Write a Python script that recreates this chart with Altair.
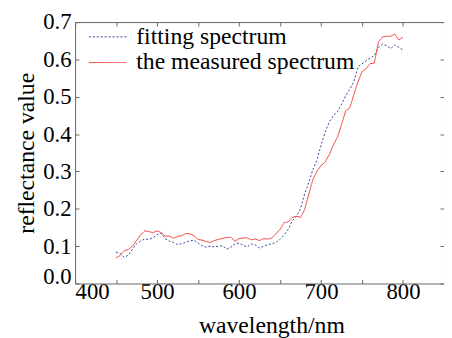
import altair as alt
import pandas as pd

wavelength = list(range(450, 805, 5))

measured = [
    0.068, 0.075, 0.088, 0.091, 0.100, 0.115, 0.130, 0.141, 0.139, 0.136,
    0.141, 0.136, 0.127, 0.127, 0.121, 0.126, 0.128, 0.134, 0.133, 0.128,
    0.118, 0.116, 0.112, 0.110, 0.115, 0.118, 0.121, 0.123, 0.124, 0.113,
    0.120, 0.122, 0.122, 0.117, 0.119, 0.115, 0.120, 0.119, 0.122, 0.133,
    0.145, 0.163, 0.165, 0.177, 0.180, 0.177, 0.198, 0.238, 0.278, 0.300,
    0.316, 0.325, 0.345, 0.370, 0.392, 0.425, 0.462, 0.470, 0.505, 0.540,
    0.567, 0.575, 0.589, 0.590, 0.646, 0.660, 0.662, 0.662, 0.668, 0.652,
    0.660,
]

fitting = [
    0.084, 0.080, 0.070, 0.076, 0.092, 0.106, 0.114, 0.119, 0.118, 0.122,
    0.131, 0.135, 0.120, 0.113, 0.110, 0.104, 0.107, 0.110, 0.114, 0.116,
    0.108, 0.101, 0.097, 0.100, 0.098, 0.100, 0.101, 0.092, 0.097, 0.106,
    0.108, 0.102, 0.098, 0.106, 0.103, 0.095, 0.100, 0.104, 0.106, 0.110,
    0.118, 0.130, 0.145, 0.168, 0.180, 0.200, 0.240, 0.270, 0.305, 0.330,
    0.370, 0.405, 0.432, 0.450, 0.460, 0.480, 0.503, 0.520, 0.540, 0.580,
    0.588, 0.596, 0.604, 0.610, 0.632, 0.641, 0.637, 0.629, 0.639, 0.632,
    0.625,
]

series_names = ["fitting spectrum", "the measured spectrum"]
series_colors = ["#34449a", "#ef3b38"]
series_dash = [[2, 2], [1, 0]]

x_ticks = list(range(400, 851, 50))
x_labels = list(range(400, 801, 100))
y_ticks = [0.0, 0.1, 0.2, 0.3, 0.4, 0.5, 0.6, 0.7]

df = pd.DataFrame({
    "wavelength": wavelength * 2,
    "value": fitting + measured,
    "series": [series_names[0]] * len(wavelength) + [series_names[1]] * len(wavelength),
})

FONT = "Liberation Serif"
FRAME = "#666666"
W, H = 374, 265

xscale = alt.Scale(domain=[400, 850], nice=False, zero=False)
yscale = alt.Scale(domain=[0, 0.7], nice=False)

legend = alt.Legend(
    title=None, orient="none", legendX=7, legendY=3,
    symbolType="M-1,0H6.6", symbolSize=100, symbolStrokeWidth=1,
    labelFont=FONT, labelFontSize=24, labelColor="black", labelLimit=0,
    labelOffset=31, rowPadding=2, padding=0,
)

main = alt.Chart(df).mark_line(strokeWidth=1).encode(
    x=alt.X("wavelength:Q", scale=xscale, axis=alt.Axis(
        orient="bottom", values=x_labels, format="d", ticks=False,
        domain=True, domainColor=FRAME, grid=False,
        labelFont=FONT, labelFontSize=23, labelColor="black", labelPadding=-3,
        title="wavelength/nm", titleFont=FONT, titleFontSize=24,
        titleFontWeight="normal", titleColor="black", titlePadding=11, titleX=199,
    )),
    y=alt.Y("value:Q", scale=yscale, axis=alt.Axis(
        orient="left", values=y_ticks, format=".1f", ticks=False,
        domain=True, domainColor=FRAME, grid=False,
        labelFont=FONT, labelFontSize=23, labelColor="black", labelPadding=4,
        labelBaseline=alt.condition("datum.value == 0", alt.value("alphabetic"), alt.value("middle")),
        title="reflectance value", titleFont=FONT, titleFontSize=24,
        titleFontWeight="normal", titleColor="black", titlePadding=4,
    )),
    color=alt.Color("series:N", scale=alt.Scale(domain=series_names, range=series_colors), legend=legend),
    strokeDash=alt.StrokeDash("series:N", scale=alt.Scale(domain=series_names, range=series_dash), legend=legend),
)

ticks_in_low = alt.Chart(df).mark_line(opacity=0).encode(
    x=alt.X("wavelength:Q", scale=xscale, axis=alt.Axis(
        orient="top", offset=-H, values=x_ticks, labels=False, domain=False,
        ticks=True, tickSize=4, tickColor=FRAME, grid=False, title=None)),
    y=alt.Y("value:Q", scale=yscale, axis=alt.Axis(
        orient="right", offset=-W, values=y_ticks, labels=False, domain=False,
        ticks=True, tickSize=4, tickColor=FRAME, grid=False, title=None)),
)

ticks_in_high = alt.Chart(df).mark_line(opacity=0).encode(
    x=alt.X("wavelength:Q", scale=xscale, axis=alt.Axis(
        orient="bottom", offset=-H, values=x_ticks, labels=False, domain=True,
        domainColor=FRAME, ticks=True, tickSize=4, tickColor=FRAME, grid=False, title=None)),
    y=alt.Y("value:Q", scale=yscale, axis=alt.Axis(
        orient="left", offset=-W, values=y_ticks, labels=False, domain=True,
        domainColor=FRAME, ticks=True, tickSize=4, tickColor=FRAME, grid=False, title=None)),
)

chart = alt.layer(main, ticks_in_low, ticks_in_high).resolve_axis(
    x="independent", y="independent"
).properties(
    width=W, height=H,
    autosize=alt.AutoSizeParams(type="none"),
    padding={"left": 68, "top": 12, "right": 0, "bottom": 53},
    background="white",
).configure(
    font=FONT
).configure_axis(
    labelFont=FONT, titleFont=FONT
).configure_legend(
    labelFont=FONT
).configure_view(stroke="transparent")

chart.save("out.html", embed_options={"renderer": "svg", "actions": False})
